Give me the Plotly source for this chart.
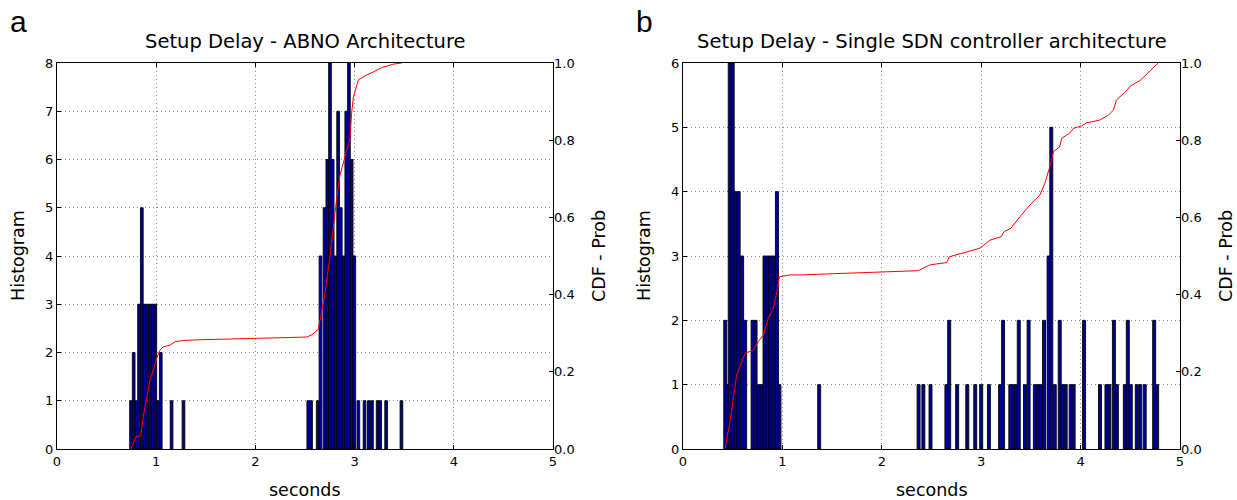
import plotly.graph_objects as go

# ---------------- data ----------------
# Panel a: ABNO architecture histogram (bin centres in seconds, counts)
abno_bin_x = [0.746, 0.773, 0.800, 0.827, 0.855, 0.882, 0.909, 0.937, 0.964, 0.991, 1.018, 1.046, 1.155, 1.275,
              2.533, 2.561, 2.628, 2.656, 2.697, 2.725, 2.752, 2.779, 2.806, 2.834, 2.861, 2.888, 2.916,
              2.943, 2.970, 2.997, 3.038, 3.100, 3.143, 3.175, 3.232, 3.258, 3.318, 3.472]
abno_counts = [1, 2, 1, 3, 5, 3, 3, 3, 3, 3, 1, 2, 1, 1,
               1, 1, 1, 4, 5, 6, 8, 6, 4, 7, 5, 4, 7,
               8, 6, 4, 1, 1, 1, 1, 1, 1, 1, 1]
# Panel a: CDF curve
abno_cdf_x = [0.746, 0.753, 0.796, 0.843, 0.870, 0.904, 0.938, 0.971, 1.005, 1.038, 1.072, 1.139, 1.190,
              1.273, 1.440, 2.520, 2.570, 2.634, 2.668, 2.700, 2.752, 2.785, 2.820, 2.853, 2.903, 2.954,
              2.970, 2.987, 3.037, 3.122, 3.190, 3.273, 3.390, 3.475]
abno_cdf_p = [0.0, 0.006, 0.032, 0.034, 0.084, 0.135, 0.179, 0.205, 0.235, 0.256, 0.265, 0.269, 0.278,
              0.281, 0.283, 0.290, 0.296, 0.310, 0.356, 0.400, 0.500, 0.580, 0.650, 0.710, 0.760, 0.805,
              0.870, 0.910, 0.956, 0.969, 0.977, 0.988, 0.997, 1.0]

# Panel b: single SDN controller histogram
sdn_bin_x = [0.425, 0.445, 0.470, 0.500, 0.530, 0.560, 0.595, 0.625, 0.700, 0.730, 0.765, 0.790, 0.820,
             0.850, 0.880, 0.910, 0.945, 0.970,
             1.370, 2.370, 2.418, 2.490, 2.650, 2.678, 2.758, 2.860, 2.940, 3.000, 3.078, 3.190, 3.220,
             3.293, 3.320, 3.350, 3.378, 3.440, 3.477, 3.540, 3.570, 3.600, 3.632, 3.678, 3.705, 3.740,
             3.790, 3.820, 3.850, 3.900, 3.930, 4.035, 4.195, 4.260, 4.290, 4.335, 4.365, 4.445, 4.475,
             4.505, 4.565, 4.600, 4.645, 4.740, 4.770]
sdn_counts = [2, 1, 6, 6, 4, 4, 3, 2, 2, 2, 1, 1, 3,
              3, 3, 3, 4, 1,
              1, 1, 1, 1, 1, 2, 1, 1, 1, 1, 1, 1, 2,
              1, 1, 1, 2, 1, 2, 1, 1, 1, 2, 3, 5, 1,
              2, 1, 1, 1, 1, 2, 1, 1, 1, 2, 1, 1, 2,
              1, 1, 1, 1, 2, 1]
# Panel b: CDF curve
sdn_cdf_x = [0.423, 0.473, 0.506, 0.540, 0.573, 0.624, 0.707, 0.757, 0.808, 0.858, 0.908, 0.952, 0.969,
             1.076, 1.180, 1.980, 2.366, 2.484, 2.653, 2.680, 2.955, 2.986, 3.088, 3.200, 3.230, 3.300,
             3.390, 3.490, 3.590, 3.640, 3.690, 3.726, 3.790, 3.810, 3.890, 3.930, 4.010, 4.060, 4.190,
             4.280, 4.330, 4.360, 4.450, 4.500, 4.600, 4.680, 4.750, 4.780]
sdn_cdf_p = [0.002, 0.071, 0.131, 0.192, 0.213, 0.248, 0.256, 0.278, 0.295, 0.339, 0.364, 0.416, 0.446,
             0.451, 0.451, 0.459, 0.462, 0.477, 0.483, 0.498, 0.516, 0.520, 0.541, 0.550, 0.563, 0.572,
             0.602, 0.632, 0.658, 0.688, 0.731, 0.770, 0.783, 0.805, 0.818, 0.831, 0.837, 0.845, 0.852,
             0.865, 0.878, 0.904, 0.925, 0.940, 0.955, 0.975, 0.990, 1.0]

x_ticks = [0, 1, 2, 3, 4, 5]
cdf_ticks = [0.0, 0.2, 0.4, 0.6, 0.8, 1.0]

titles = ["Setup Delay - ABNO Architecture", "Setup Delay - Single SDN controller architecture"]
panel_letters = ["a", "b"]

# ---------------- figure ----------------
W, H = 1237, 500
FONT = "DejaVu Sans"
BAR_FILL = "#00009a"
BAR_EDGE = "#000000"
GRID = dict(showgrid=True, gridcolor="#8c8c8c", griddash="1px,3px", gridwidth=1)


def px(xr):
    return xr / W


def py(yr):
    return 1 - yr / H


fig = go.Figure()

fig.add_trace(go.Bar(x=abno_bin_x, y=abno_counts, width=0.027, xaxis="x", yaxis="y",
                     marker=dict(color=BAR_FILL, line=dict(color=BAR_EDGE, width=0.9)),
                     showlegend=False))
fig.add_trace(go.Scatter(x=abno_cdf_x, y=abno_cdf_p, mode="lines", xaxis="x", yaxis="y2",
                         line=dict(color="#ff0000", width=1), showlegend=False))
fig.add_trace(go.Bar(x=sdn_bin_x, y=sdn_counts, width=0.03, xaxis="x2", yaxis="y3",
                     marker=dict(color=BAR_FILL, line=dict(color=BAR_EDGE, width=0.9)),
                     showlegend=False))
fig.add_trace(go.Scatter(x=sdn_cdf_x, y=sdn_cdf_p, mode="lines", xaxis="x2", yaxis="y4",
                         line=dict(color="#ff0000", width=1), showlegend=False))

# plot-area geometry in reference pixels
L1, R1 = 57, 553
L2, R2 = 683, 1180
TOP, BOT = 63, 449
xd1 = [px(L1), px(R1)]
xd2 = [px(L2), px(R2)]
yd = [py(BOT), py(TOP)]

tickfont = dict(family=FONT, size=13, color="black")
common_x = dict(range=[0, 5], tickvals=x_ticks, ticks="inside", ticklen=4, tickcolor="black",
                showline=True, linecolor="black", linewidth=1, mirror="ticks", automargin=False,
                zeroline=False, tickfont=tickfont, fixedrange=True, **GRID)
common_y = dict(ticks="inside", ticklen=4, tickcolor="black", automargin=False,
                showline=True, linecolor="black", linewidth=1, mirror=True,
                zeroline=False, tickfont=tickfont, fixedrange=True, **GRID)
cdf_y = dict(range=[0, 1], tickvals=cdf_ticks, tickformat=".1f", side="right", ticks="inside",
             ticklen=4, tickcolor="black", showgrid=False, zeroline=False, showline=False,
             automargin=False, tickfont=tickfont, fixedrange=True)

fig.update_layout(
    template="none",
    width=W, height=H,
    margin=dict(l=0, r=0, t=0, b=0, pad=0, autoexpand=False),
    paper_bgcolor="white", plot_bgcolor="white",
    bargap=0,
    barmode="overlay",
    hovermode=False,
    xaxis=dict(domain=xd1, anchor="y", **common_x),
    yaxis=dict(domain=yd, anchor="x", range=[0, 8], tickvals=list(range(9)), **common_y),
    yaxis2=dict(domain=yd, anchor="x", overlaying="y", **cdf_y),
    xaxis2=dict(domain=xd2, anchor="y3", **common_x),
    yaxis3=dict(domain=yd, anchor="x2", range=[0, 6], tickvals=list(range(7)), **common_y),
    yaxis4=dict(domain=yd, anchor="x2", overlaying="y3", **cdf_y),
)

ann = []
for (l, r), title, letter in zip([(L1, R1), (L2, R2)], titles, panel_letters):
    cx = (l + r) / 2
    ann.append(dict(x=px(cx), y=py(42), text=title, showarrow=False,
                    xref="paper", yref="paper", xanchor="center", yanchor="middle",
                    font=dict(family=FONT, size=19.5, color="black")))
    ann.append(dict(x=px(cx), y=py(490), text="seconds", showarrow=False,
                    xref="paper", yref="paper", xanchor="center", yanchor="middle",
                    font=dict(family=FONT, size=17.5, color="black")))
    ann.append(dict(x=px(l - 39), y=py(256), text="Histogram", showarrow=False, textangle=-90,
                    xref="paper", yref="paper", xanchor="center", yanchor="middle",
                    font=dict(family=FONT, size=17.5, color="black")))
    ann.append(dict(x=px(r + 46), y=py(256), text="CDF - Prob", showarrow=False, textangle=-90,
                    xref="paper", yref="paper", xanchor="center", yanchor="middle",
                    font=dict(family=FONT, size=17.5, color="black")))
    ann.append(dict(x=px(l - 39), y=py(21), text=letter, showarrow=False,
                    xref="paper", yref="paper", xanchor="center", yanchor="middle",
                    font=dict(family="Liberation Sans", size=30, color="black")))
fig.update_layout(annotations=ann)

fig.write_html(
    "out.html",
    config={"displayModeBar": False, "staticPlot": True},
    post_script="document.body.style.margin='0';document.documentElement.style.overflow='hidden';",
)
